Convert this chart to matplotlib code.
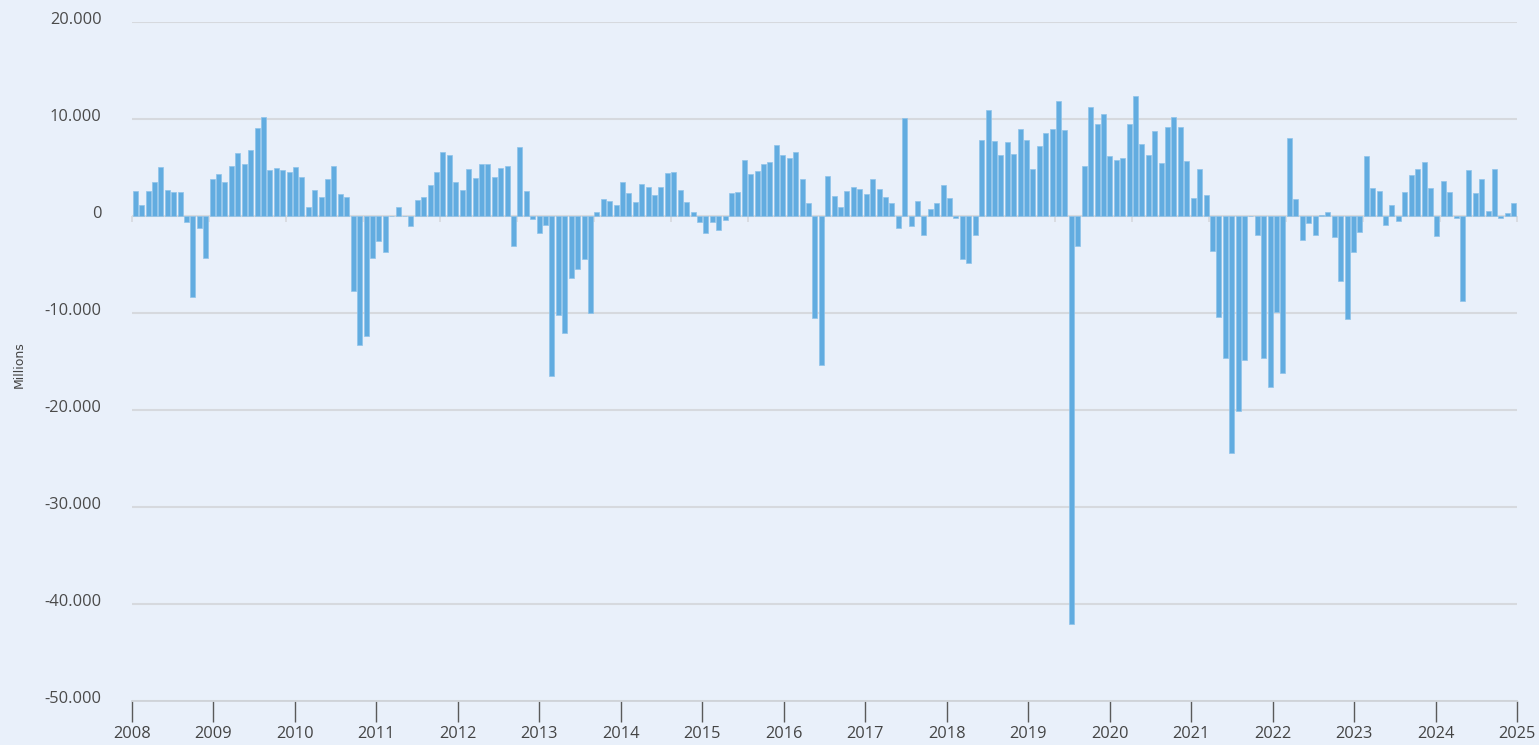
import numpy as np
import matplotlib.pyplot as plt
import matplotlib.transforms as mtransforms
from matplotlib.ticker import FuncFormatter, FixedLocator, MultipleLocator, NullFormatter

'''monthly net flows, bar chart (values in millions)'''

# one value per month, Jan 2008 .. Dec 2025 (216 months)
monthly_values = [
    2540, 1170, 2540, 3470, 5020, 2650, 2440, 2440, -650, -8350, -1200, -4330,
    3850, 4360, 3470, 5120, 6500, 5400, 6770, 9040, 10170, 4780, 4950, 4700,
    4570, 5020, 4000, 900, 2650, 1920, 3850, 5120, 2270, 1920, -7700, -13300,
    -12370, -4330, -2580, -3680, 0, 900, 0, -1030, 1600, 2000, 3160, 4570,
    6560, 6290, 3470, 2650, 4850, 3920, 5400, 5400, 4000, 4910, 5190, -3130,
    7110, 2540, -270, -1750, -930, -16500, -10170, -12030, -6430, -5430, -4400, -10000,
    410, 1720, 1510, 1170, 3540, 2340, 1440, 3260, 2990, 2160, 2990, 4470,
    4570, 2650, 1440, 410, -650, -1750, -650, -1470, -450, 2340, 2440, 5740,
    4300, 4640, 5400, 5570, 7320, 6290, 6010, 6560, 3850, 1340, -10550, -15330,
    4090, 2100, 900, 2540, 3020, 2750, 2270, 3850, 2750, 2000, 1340, -1200,
    10070, -1070, 1510, -1920, 690, 1340, 3200, 1820, -170, -4400, -4850, -1920,
    7870, 10900, 7700, 6290, 7680, 6430, 8970, 7790, 4850, 7170, 8530, 8970,
    11900, 8860, -42060, -3120, 5150, 11200, 9520, 10550, 6140, 5740, 5960, 9520,
    12350, 7390, 6290, 8790, 5480, 9150, 10180, 9150, 5630, 1840, 4850, 2180,
    -3600, -10460, -14650, -24400, -20080, -14860, 0, -1950, -14600, -17600, -9900, -16150,
    8040, 1720, -2500, -760, -1960, 140, 450, -2130, -6700, -10650, -3680, -1650,
    6220, 2920, 2540, -930, 1170, -480, 2440, 4190, 4850, 5570, 2920, -2030,
    3640, 2440, -170, -8730, 4740, 2340, 3850, 520, 4850, -170, 340, 1340,
]

year_labels = [str(y) for y in range(2008, 2026)]
y_ticks = [20000, 10000, 0, -10000, -20000, -30000, -40000, -50000]

bg = '#e9f0fa'
bar_color = '#62ace0'

plt.rcParams['font.family'] = ['Open Sans', 'DejaVu Sans']

fig = plt.figure(figsize=(15.39, 7.45), dpi=100, facecolor=bg)
ax = fig.add_axes([132 / 1539, 1 - 701 / 745, (1517 - 132) / 1539, (701 - 22) / 745])
ax.set_facecolor(bg)

n = len(monthly_values)
x = np.arange(n) + 0.5
ax.bar(x, monthly_values, width=0.78, color=bar_color,
       edgecolor='#8fc3ea', linewidth=0.5, zorder=3)

ax.set_xlim(0, n)
ax.set_ylim(-50000, 20000)

# horizontal grid
ax.set_yticks(y_ticks)
ax.yaxis.grid(True, color='#d6d9de', linewidth=1.5, zorder=0)
ax.yaxis.set_major_formatter(FuncFormatter(lambda v, p: f'{int(v):,}'.replace(',', '.')))
ax.tick_params(axis='y', length=0, pad=22, labelsize=11.8, labelcolor='#4a4a4a')
# labels sit a little above their grid line
shift = mtransforms.ScaledTranslation(0, 3 / 72, fig.dpi_scale_trans)
for lbl in ax.get_yticklabels():
    lbl.set_transform(lbl.get_transform() + shift)

# bottom axis: year labels spread evenly over the whole width
year_pos = np.linspace(0, n, len(year_labels))
ax.xaxis.set_major_locator(FixedLocator(year_pos))
ax.set_xticklabels(year_labels)
ax.tick_params(axis='x', length=15, width=1, color='#5a5a5a', pad=3,
               labelsize=11.8, labelcolor='#444444')

for s in ['top', 'right', 'left']:
    ax.spines[s].set_visible(False)
ax.spines['bottom'].set_color('#cfd3d8')
ax.spines['bottom'].set_linewidth(1.3)

# zero line with small yearly ticks
zero_pos = 50000 / 70000
zax = ax.secondary_xaxis(zero_pos)
zax.xaxis.set_ticks_position('bottom')
zax.xaxis.set_major_locator(MultipleLocator(12))
zax.xaxis.set_major_formatter(NullFormatter())
zax.tick_params(length=4, width=1.2, color='#d6d9de', direction='out',
                labelbottom=False, labeltop=False)
zax.spines['bottom'].set_color('#d6d9de')
zax.spines['bottom'].set_linewidth(1.5)
zax.spines['top'].set_visible(False)

ax.set_ylabel('Millions', fontsize=9, color='#444444', family='Liberation Sans Narrow')
ax.yaxis.set_label_coords(-106 / 1385, (701 - 365) / (701 - 22))

plt.savefig('out.png', dpi=100, facecolor=bg)
